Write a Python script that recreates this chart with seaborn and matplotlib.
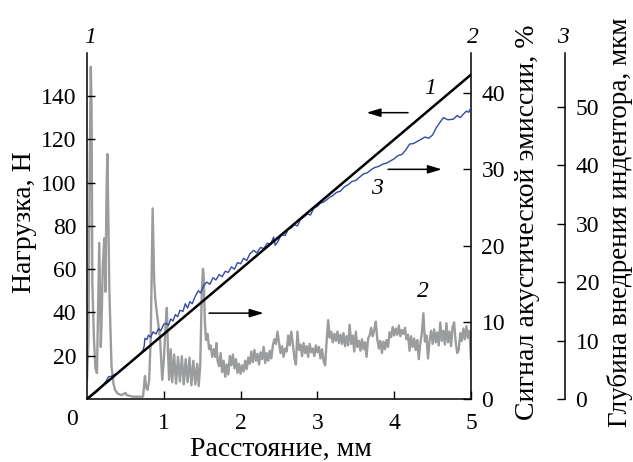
import numpy as np
import matplotlib
matplotlib.use("Agg")
import matplotlib.pyplot as plt
import seaborn as sns

# Curve 1: normal load, N
load_distance = [0.0, 5.0]
load_n = [0.0, 150.0]

# Curve 2: acoustic emission signal, %
ae_distance = [
    0.000, 0.020, 0.035, 0.050, 0.060, 0.070, 0.090, 0.110, 0.130, 0.145,
    0.160, 0.170, 0.180, 0.190, 0.205, 0.225, 0.240, 0.255, 0.265, 0.275,
    0.290, 0.300, 0.320, 0.345, 0.365, 0.400, 0.450, 0.500, 0.520, 0.600,
    0.700, 0.730, 0.745, 0.755, 0.770, 0.790, 0.810, 0.830, 0.845, 0.855,
    0.865, 0.875, 0.890, 0.910, 0.950, 0.980, 1.000, 1.020, 1.040, 1.055,
    1.070, 1.090, 1.110, 1.135, 1.160, 1.185, 1.210, 1.235, 1.260, 1.285,
    1.310, 1.335, 1.360, 1.385, 1.410, 1.435, 1.455, 1.475, 1.495,
    1.510, 1.520, 1.535, 1.550, 1.570, 1.590, 1.610, 1.630, 1.650, 1.670,
    1.685, 1.700, 1.720, 1.740, 1.760, 1.780,
    1.80, 1.82, 1.84, 1.86, 1.88, 1.90, 1.92, 1.94, 1.96, 1.98,
    2.00, 2.02, 2.04, 2.06, 2.08, 2.10, 2.12, 2.14, 2.16, 2.18,
    2.20, 2.22, 2.24, 2.26, 2.28, 2.30, 2.32, 2.34, 2.36, 2.38,
    2.40, 2.42, 2.44, 2.46, 2.48, 2.50, 2.52, 2.54, 2.56, 2.58,
    2.60, 2.62, 2.64, 2.66, 2.68, 2.70, 2.72, 2.74, 2.76, 2.78,
    2.80, 2.82, 2.84, 2.86, 2.88, 2.90, 2.92, 2.94, 2.96, 2.98,
    3.00, 3.02, 3.04, 3.06, 3.08, 3.10, 3.12, 3.14, 3.16, 3.18,
    3.20, 3.22, 3.24, 3.26, 3.28, 3.30, 3.32, 3.34, 3.36, 3.38,
    3.40, 3.42, 3.44, 3.46, 3.48, 3.50, 3.52, 3.54, 3.56, 3.58,
    3.60, 3.62, 3.64, 3.66, 3.68, 3.70, 3.72, 3.74, 3.76, 3.78,
    3.80, 3.82, 3.84, 3.86, 3.88, 3.90, 3.92, 3.94, 3.96, 3.98,
    4.00, 4.02, 4.04, 4.06, 4.08, 4.10, 4.12, 4.14, 4.16, 4.18,
    4.20, 4.22, 4.24, 4.26, 4.28, 4.30, 4.32, 4.34, 4.36, 4.38,
    4.40, 4.42, 4.44, 4.46, 4.48, 4.50, 4.52, 4.54, 4.56, 4.58,
    4.60, 4.62, 4.64, 4.66, 4.68, 4.70, 4.72, 4.74, 4.76, 4.78,
    4.80, 4.82, 4.84, 4.86, 4.88, 4.90, 4.92, 4.94, 4.96, 4.98,
    5.00,
]
ae_percent = [
    2.5, 8.0, 30.0, 43.4, 38.0, 15.0, 8.0, 4.0, 3.4, 12.0,
    20.4, 14.0, 6.8, 10.0, 17.0, 21.0, 14.0, 27.0, 32.0, 26.0,
    15.0, 11.0, 4.2, 2.0, 1.2, 0.7, 0.5, 0.8, 0.5, 0.3,
    0.3, 0.3, 2.0, 3.0, 1.5, 1.2, 2.5, 8.0, 18.0, 24.9,
    20.0, 15.5, 13.0, 11.2, 8.1, 2.5, 5.0, 9.0, 11.9, 6.0,
    2.5, 6.5, 2.2, 5.8, 2.0, 5.5, 2.3, 5.6, 1.9, 5.2,
    2.2, 5.4, 1.8, 5.0, 1.9, 4.6, 1.7, 4.5, 14.0,
    17.0, 16.0, 10.0, 7.7, 8.5, 6.5, 7.0, 5.5, 6.5, 5.5,
    7.3, 5.0, 4.3, 6.0, 3.5, 5.0,
    2.9, 4.5, 3.2, 5.6, 4.4, 5.8, 4.0, 5.2, 3.4, 4.6,
    3.3, 4.4, 3.6, 5.0, 3.9, 5.4, 4.6, 6.2, 4.8, 6.4,
    5.0, 5.9, 4.5, 6.1, 5.2, 6.8, 4.7, 6.0, 5.0, 6.3,
    5.3, 7.0, 7.8, 7.2, 8.8, 7.4, 6.0, 6.9, 5.5, 6.6,
    6.2, 8.3, 7.0, 8.8, 7.2, 5.4, 4.5, 8.8, 6.4, 7.1,
    5.6, 7.3, 6.0, 6.9, 5.5, 7.2, 6.1, 6.6, 5.6, 7.0,
    6.1, 6.8, 5.3, 6.5, 5.0, 4.4, 7.5, 10.3, 8.0, 8.8,
    7.4, 8.5, 7.6, 8.8, 7.3, 8.4, 7.2, 8.6, 6.9, 8.2,
    7.0, 9.7, 7.2, 8.3, 6.2, 8.8, 6.8, 7.6, 6.3, 7.8,
    6.5, 7.4, 5.5, 7.9, 8.3, 9.3, 8.2, 9.0, 10.1, 7.8,
    6.6, 7.6, 6.0, 7.5, 6.5, 7.7, 6.8, 8.7, 8.1, 9.4,
    8.3, 9.2, 8.4, 9.6, 8.2, 9.0, 8.5, 9.3, 7.8, 8.4,
    6.3, 8.2, 6.8, 7.9, 6.4, 7.7, 5.2, 7.3, 8.6, 11.2,
    7.5, 8.3, 5.3, 7.6, 8.9, 7.2, 9.1, 7.4, 8.7, 7.0,
    10.0, 7.6, 8.9, 7.1, 9.9, 7.4, 8.8, 6.9, 9.4, 10.0,
    7.5, 6.0, 6.4, 8.6, 7.6, 9.2, 7.8, 9.5, 8.0, 8.9,
    5.1,
]

# Curve 3: indenter penetration depth, um
depth_distance = [
    0.00, 0.05, 0.10, 0.15, 0.20, 0.25, 0.28, 0.32, 0.36, 0.40,
    0.45, 0.49, 0.55, 0.60, 0.65, 0.70, 0.73, 0.745, 0.755, 0.78,
    0.80, 0.83, 0.86, 0.90, 0.93, 0.96, 1.00, 1.03, 1.06, 1.09,
    1.12, 1.15, 1.18, 1.21, 1.25, 1.28, 1.31, 1.34, 1.37, 1.41,
    1.45, 1.48, 1.52, 1.56, 1.60, 1.64, 1.68, 1.72, 1.76, 1.80,
    1.84, 1.88, 1.92, 1.96, 2.00, 2.04, 2.08, 2.12, 2.17, 2.21,
    2.26, 2.30, 2.35, 2.39, 2.43, 2.45, 2.49, 2.53, 2.58, 2.62,
    2.66, 2.70, 2.74, 2.78, 2.82, 2.87, 2.91, 2.95, 3.00, 3.04,
    3.08, 3.12, 3.16, 3.20, 3.25, 3.30, 3.35, 3.40, 3.45, 3.50,
    3.55, 3.60, 3.65, 3.70, 3.75, 3.80, 3.85, 3.90, 3.95, 4.00,
    4.05, 4.10, 4.15, 4.20, 4.25, 4.30, 4.35, 4.40, 4.45, 4.50,
    4.55, 4.60, 4.64, 4.70, 4.77, 4.82, 4.86, 4.90, 4.94, 4.97,
    5.00,
]
depth_um = [
    0.0, 0.44, 0.93, 1.48, 2.22, 3.07, 3.81, 3.89, 4.18, 4.52,
    5.04, 5.52, 6.11, 6.67, 7.26, 7.85, 8.37, 9.07, 10.37, 10.18,
    10.92, 10.55, 11.48, 11.11, 12.03, 11.66, 12.78, 12.96, 12.59, 13.70,
    13.33, 14.44, 14.07, 15.18, 15.00, 16.29, 15.55, 16.66, 16.29, 17.59,
    18.52, 18.14, 19.44, 20.00, 19.63, 20.74, 20.37, 21.29, 20.92, 21.85,
    21.66, 22.59, 22.22, 23.33, 23.14, 24.07, 23.70, 24.81, 25.44, 25.00,
    25.92, 25.74, 26.66, 26.48, 27.70, 26.29, 27.03, 28.14, 27.96, 29.07,
    29.25, 29.81, 29.62, 30.73, 31.11, 31.66, 31.48, 32.59, 32.96, 33.51,
    33.70, 34.07, 34.51, 34.81, 35.36, 35.55, 36.29, 36.66, 37.22, 37.40,
    37.96, 38.51, 38.70, 39.25, 39.62, 39.81, 40.18, 40.36, 40.73, 41.10,
    41.66, 41.84, 42.58, 43.62, 43.70, 44.07, 44.44, 44.81, 44.62, 45.18,
    46.47, 47.40, 48.14, 47.77, 47.88, 48.51, 48.14, 48.73, 49.25, 49.06,
    49.88,
]

sns.set_style("ticks", {
    "axes.edgecolor": "black",
    "xtick.color": "black",
    "ytick.color": "black",
    "text.color": "black",
    "axes.labelcolor": "black",
})
plt.rcParams["font.family"] = ["Liberation Serif", "DejaVu Serif"]

TICK_FS = 17
LABEL_FS = 20

fig = plt.figure(figsize=(6.33, 4.62), dpi=100)
ax = fig.add_axes([0.1374, 0.1364, 0.6067, 0.7489])
ax2 = ax.twinx()
ax3 = ax.twinx()

# stacking: AE signal at the back, depth above it, load line on top
ax2.set_zorder(1)
ax3.set_zorder(2)
ax.set_zorder(3)
for a in (ax, ax2, ax3):
    a.patch.set_visible(False)

sns.lineplot(x=ae_distance, y=ae_percent, ax=ax2, color="#9a9c9d",
             linewidth=1.7, estimator=None, sort=False)
sns.lineplot(x=depth_distance, y=depth_um, ax=ax3, color="#3548a3",
             linewidth=1.0, estimator=None, sort=False)
sns.lineplot(x=load_distance, y=load_n, ax=ax, color="black",
             linewidth=1.8, estimator=None, sort=False)

ax.set_xlim(0, 5)
ax.set_ylim(0, 160)
ax2.set_ylim(0, 45.2)
ax3.set_ylim(0, 59.2)

# spines
ax.spines["top"].set_visible(False)
ax.spines["right"].set_visible(False)
for s in ("top", "left", "bottom"):
    ax2.spines[s].set_visible(False)
    ax3.spines[s].set_visible(False)
ax3.spines["right"].set_position(("axes", 1.245))
for a in (ax, ax2, ax3):
    for s in a.spines.values():
        s.set_linewidth(1.1)

ax.set_xticks([1, 2, 3, 4, 5])
ax.set_yticks([20, 40, 60, 80, 100, 120, 140])
ax2.set_yticks([0, 10, 20, 30, 40])
ax3.set_yticks([0, 10, 20, 30, 40, 50])

for a in (ax, ax2, ax3):
    a.tick_params(direction="in", length=6, width=1.0, labelsize=TICK_FS, pad=7.5)
ax.tick_params(axis="x", pad=10)

ax.text(-0.040, -0.060, "0", transform=ax.transAxes, fontsize=TICK_FS,
        ha="center", va="center")

ax.set_xlabel("Расстояние, мм", fontsize=LABEL_FS)
ax.xaxis.label.set_va("baseline")
ax.xaxis.set_label_coords(0.505, -0.1635)

ax.set_ylabel("Нагрузка, Н", fontsize=LABEL_FS)
ax2.set_ylabel("Сигнал акустической эмиссии, %", fontsize=LABEL_FS)
ax3.set_ylabel("Глубина внедрения индентора, мкм", fontsize=19.5)
for a, xpos in ((ax, -0.1458), (ax2, 1.164), (ax3, 1.405)):
    a.yaxis.label.set_va("baseline")
    a.yaxis.label.set_ha("center")
    a.yaxis.set_label_coords(xpos, 0.51)

# curve numbers above the axes
for xpos, txt in ((0.008, "1"), (1.005, "2"), (1.24, "3")):
    ax.text(xpos, 1.045, txt, transform=ax.transAxes, fontsize=TICK_FS,
            style="italic", ha="center", va="center")

# curve numbers next to the curves
ax.text(4.47, 143.8, "1", fontsize=TICK_FS, style="italic", ha="center", va="center")
ax.text(3.77, 97.4, "3", fontsize=TICK_FS, style="italic", ha="center", va="center")
ax.text(4.375, 49.5, "2", fontsize=TICK_FS, style="italic", ha="center", va="center")

arrow = dict(arrowstyle="-|>,head_length=0.6,head_width=0.18", color="black",
             lw=1.1, mutation_scale=14, shrinkA=0, shrinkB=0)
ax.annotate("", xy=(3.64, 132.4), xytext=(4.18, 132.4), arrowprops=arrow)
ax.annotate("", xy=(4.62, 106.2), xytext=(3.92, 106.2), arrowprops=arrow)
ax.annotate("", xy=(2.30, 39.7), xytext=(1.59, 39.7), arrowprops=arrow)

fig.savefig("out.png", dpi=100)
